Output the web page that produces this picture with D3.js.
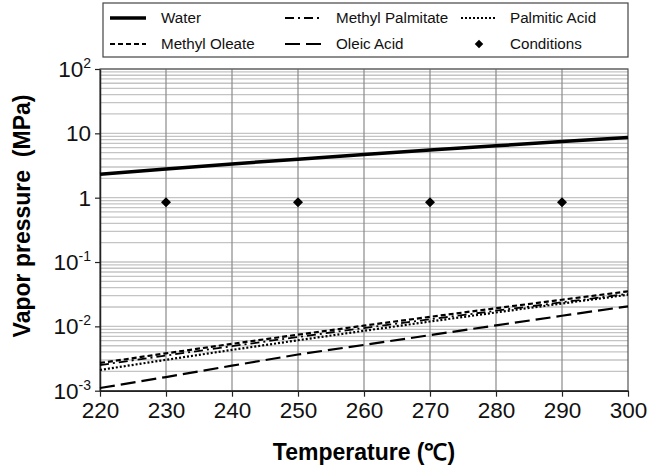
<!DOCTYPE html>
<html>
<head>
<meta charset="utf-8">
<script src="https://cdn.jsdelivr.net/npm/d3@7"></script>
<style>
body { margin: 0; background: #fff; }
text { font-family: "Liberation Sans", Arial, sans-serif; }
</style>
</head>
<body>
<div id="chart"></div>
<script>
var width = 647,
    height = 468;

var temps = [220, 230, 240, 250, 260, 270, 280, 290, 300];
var water = [2.318, 2.795, 3.344, 3.973, 4.688, 5.499, 6.412, 7.436, 8.581];
var methylOleate = [0.0027, 0.00381, 0.00535, 0.00743, 0.01026, 0.01406, 0.01914, 0.02594, 0.035];
var methylPalmitate = [0.0025, 0.00352, 0.00493, 0.00684, 0.00942, 0.01288, 0.0175, 0.02364, 0.032];
var palmiticAcid = [0.0021, 0.00302, 0.00431, 0.00608, 0.00853, 0.01189, 0.01644, 0.02265, 0.03097];
var oleicAcid = [0.0011, 0.00163, 0.00245, 0.00365, 0.00515, 0.00730, 0.01035, 0.01460, 0.02051];
var condTemps = [230, 250, 270, 290];
var condPressure = [0.85, 0.85, 0.85, 0.85];
var yTicks = [1e-3, 1e-2, 1e-1, 1, 10, 100];
var yTickLabels = ["10-3", "10-2", "10-1", "1", "10", "102"];

var series = [
  {name: "Water", values: water, dash: null, w: 3.5},
  {name: "Methyl Oleate", values: methylOleate, dash: "5,3", w: 2.2},
  {name: "Methyl Palmitate", values: methylPalmitate, dash: "9,4,2,4", w: 1.8},
  {name: "Oleic Acid", values: oleicAcid, dash: "15,6", w: 2.2},
  {name: "Palmitic Acid", values: palmiticAcid, dash: "2,2", w: 2.2}
];

var svg = d3.select("#chart").append("svg")
  .attr("width", width)
  .attr("height", height);

var x = d3.scaleLinear().domain([220, 300]).range([100, 628]);
var y = d3.scaleLog().domain([1e-3, 100]).range([390.7, 69]);

// horizontal grid (minor log lines)
var minor = [];
for (var e = -3; e < 2; e++) {
  for (var m = 1; m < 10; m++) minor.push(m * Math.pow(10, e));
}
minor.push(100);
svg.append("g").selectAll("line")
  .data(minor)
  .enter().append("line")
  .attr("x1", x(220)).attr("x2", x(300))
  .attr("y1", function(d) { return y(d); })
  .attr("y2", function(d) { return y(d); })
  .attr("stroke", "#c4c4c4")
  .attr("stroke-width", 1.3);

// vertical grid
svg.append("g").selectAll("line")
  .data(d3.range(230, 300, 10))
  .enter().append("line")
  .attr("x1", function(d) { return x(d); })
  .attr("x2", function(d) { return x(d); })
  .attr("y1", y(100)).attr("y2", y(1e-3))
  .attr("stroke", "#8a8a8a")
  .attr("stroke-width", 1.2);

// frame
svg.append("rect")
  .attr("x", x(220)).attr("y", y(100))
  .attr("width", x(300) - x(220)).attr("height", y(1e-3) - y(100))
  .attr("fill", "none").attr("stroke", "#555").attr("stroke-width", 1.2);

// x axis
var xAxis = d3.axisBottom(x).tickValues(temps).tickSize(6).tickSizeOuter(0).tickFormat(d3.format("d"));
var gx = svg.append("g")
  .attr("transform", "translate(0," + y(1e-3) + ")")
  .call(xAxis);
gx.select(".domain").attr("stroke", "#222").attr("stroke-width", 1.5);
gx.selectAll(".tick line").attr("stroke", "#222").attr("stroke-width", 1.2);
gx.selectAll(".tick text")
  .attr("font-size", 22.5).attr("font-family", "Liberation Sans, Arial, sans-serif")
  .attr("fill", "#111").attr("dy", "0.82em");

// y axis
var yAxis = d3.axisLeft(y).tickValues(yTicks).tickSize(5).tickSizeOuter(0).tickFormat("");
var gy = svg.append("g")
  .attr("transform", "translate(" + x(220) + ",0)")
  .call(yAxis);
gy.select(".domain").attr("stroke", "#222").attr("stroke-width", 1.5);
gy.selectAll(".tick line").attr("stroke", "#222").attr("stroke-width", 1.2);

var ylab = svg.append("g").selectAll("text")
  .data(yTicks)
  .enter().append("text")
  .attr("x", 91)
  .attr("y", function(d) { return y(d) + 8; })
  .attr("text-anchor", "end")
  .attr("font-size", 22.5)
  .attr("fill", "#111");
ylab.each(function(d, i) {
  var t = d3.select(this), lab = yTickLabels[i];
  if (lab.length > 2 && lab.indexOf("10") === 0) {
    t.append("tspan").text("10");
    t.append("tspan").attr("font-size", 14).attr("dy", -9).text(lab.slice(2));
  } else {
    t.text(lab);
  }
});

// lines
var line = d3.line()
  .x(function(d, i) { return x(temps[i]); })
  .y(function(d) { return y(d); });

svg.append("g").selectAll("path")
  .data(series)
  .enter().append("path")
  .attr("d", function(s) { return line(s.values); })
  .attr("fill", "none")
  .attr("stroke", "#000")
  .attr("stroke-width", function(s) { return s.w; })
  .attr("stroke-dasharray", function(s) { return s.dash; });

// conditions (square turned 45 degrees)
var diamond = d3.symbol().type(d3.symbolSquare).size(50);
svg.append("g").selectAll("path")
  .data(condTemps)
  .enter().append("path")
  .attr("d", diamond)
  .attr("transform", function(d, i) { return "translate(" + x(d) + "," + y(condPressure[i]) + ") rotate(45)"; })
  .attr("fill", "#000");

// axis titles
svg.append("text")
  .attr("x", (x(220) + x(300)) / 2)
  .attr("y", 460)
  .attr("text-anchor", "middle")
  .attr("font-size", 23)
  .attr("font-weight", "bold")
  .text("Temperature (℃)");

svg.append("text")
  .attr("transform", "translate(30,216) rotate(-90)")
  .attr("text-anchor", "middle")
  .attr("font-size", 23)
  .attr("font-weight", "bold")
  .attr("xml:space", "preserve")
  .style("white-space", "pre")
  .text("Vapor pressure  (MPa)");

// legend
var leg = svg.append("g");
leg.append("rect")
  .attr("x", 103).attr("y", 3).attr("width", 525).attr("height", 54)
  .attr("fill", "#fff").attr("stroke", "#444").attr("stroke-width", 1.2);

var legendItems = [
  {name: "Water", col: 0, row: 0, s: series[0]},
  {name: "Methyl Palmitate", col: 1, row: 0, s: series[2]},
  {name: "Palmitic Acid", col: 2, row: 0, s: series[4]},
  {name: "Methyl Oleate", col: 0, row: 1, s: series[1]},
  {name: "Oleic Acid", col: 1, row: 1, s: series[3]},
  {name: "Conditions", col: 2, row: 1, s: null}
];
var colX = [110, 285, 461];
var textX = [161, 336, 510];
var rowY = [18, 44];

legendItems.forEach(function(it) {
  var yy = rowY[it.row];
  if (it.s) {
    leg.append("line")
      .attr("x1", colX[it.col]).attr("x2", colX[it.col] + 36)
      .attr("y1", yy).attr("y2", yy)
      .attr("stroke", "#000")
      .attr("stroke-width", it.s.w)
      .attr("stroke-dasharray", it.s.dash);
  } else {
    leg.append("path")
      .attr("d", d3.symbol().type(d3.symbolSquare).size(36))
      .attr("transform", "translate(" + (colX[it.col] + 18) + "," + yy + ") rotate(45)")
      .attr("fill", "#000");
  }
  leg.append("text")
    .attr("x", textX[it.col]).attr("y", yy + 5)
    .attr("font-size", 15.2)
    .attr("fill", "#111")
    .text(it.name);
});
</script>
</body>
</html>
